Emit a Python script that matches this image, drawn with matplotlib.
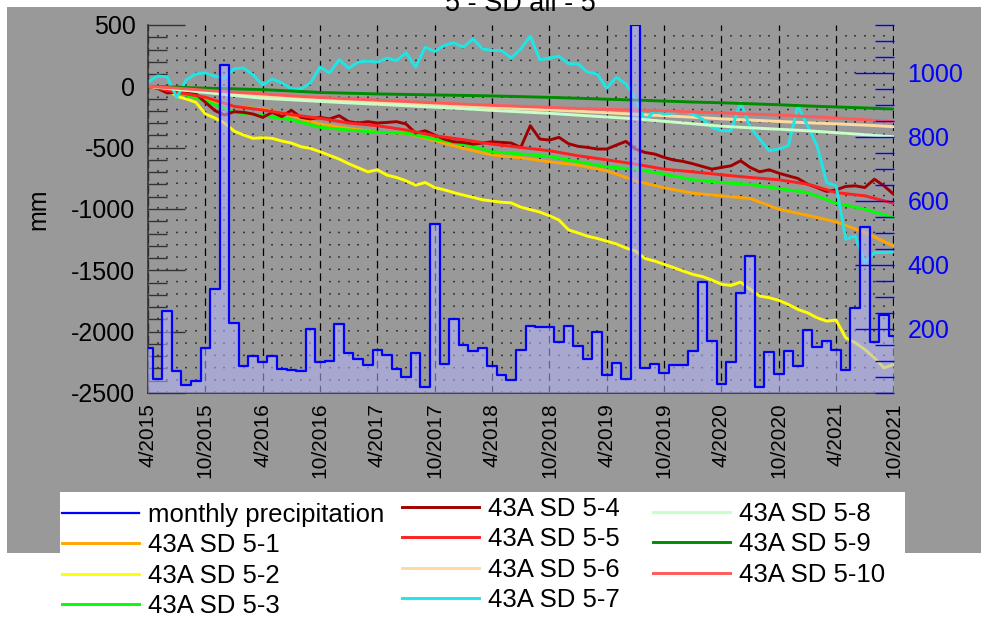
import matplotlib.pyplot as plt
from matplotlib.ticker import MultipleLocator
from matplotlib.patches import Rectangle
import numpy as np

plt.rcParams['font.family'] = ['Liberation Sans', 'DejaVu Sans']
plt.rcParams['lines.scale_dashes'] = False
plt.rcParams['axes.unicode_minus'] = False

# x axis is months since 4/2015
tick_months = list(range(0, 79, 6))
tick_labels = ['4/2015', '10/2015', '4/2016', '10/2016', '4/2017', '10/2017', '4/2018',
               '10/2018', '4/2019', '10/2019', '4/2020', '10/2020', '4/2021', '10/2021']
months = np.arange(79)          # monthly samples
months_q = np.arange(0, 79, 3)  # quarterly samples for the smooth curves

# monthly precipitation (mm, right axis)
precip = [140, 44, 256, 68, 25, 37, 140, 324, 1024, 218,
          85, 116, 97, 116, 76, 71, 68, 200, 97, 99,
          215, 126, 105, 87, 133, 118, 76, 51, 125, 20,
          527, 92, 231, 149, 130, 140, 85, 56, 40, 133,
          210, 205, 205, 159, 208, 146, 105, 192, 56, 94,
          44, 1150, 79, 92, 64, 89, 87, 130, 346, 162,
          27, 97, 311, 427, 20, 128, 58, 130, 85, 198,
          143, 164, 133, 73, 267, 519, 159, 243, 179]

# settlement curves (mm, left axis)
sd_5_1 = [0, -43, -103, -163, -185, -239, -307, -343, -375, -381, -443, -506, -560, -582,
          -615, -642, -688, -770, -827, -871, -893, -914, -1002, -1051, -1105, -1192, -1301]
sd_5_2 = [0, -8, -20, -81, -103, -130, -225, -258, -299, -364, -397, -424, -419, -424, -446,
          -462, -492, -506, -533, -563, -593, -631, -664, -697, -680, -724, -743, -770, -806,
          -784, -825, -844, -866, -887, -905, -925, -935, -945, -950, -985, -1005, -1025, -1055,
          -1090, -1170, -1195, -1222, -1240, -1262, -1285, -1318, -1342, -1404, -1424, -1451,
          -1478, -1506, -1533, -1551, -1579, -1614, -1623, -1596, -1655, -1710, -1723, -1745,
          -1778, -1819, -1846, -1887, -1914, -1906, -2050, -2091, -2145, -2213, -2295, -2268]
sd_5_3 = [0, -48, -117, -212, -239, -272, -334, -356, -375, -381, -430, -471, -533, -552,
          -571, -615, -656, -675, -716, -762, -784, -800, -833, -866, -953, -1002, -1070]
sd_5_4 = [0, -16, -54, -48, -54, -62, -130, -198, -234, -207, -212, -226, -253, -212, -247,
          -195, -253, -266, -253, -266, -239, -288, -299, -288, -299, -294, -288, -307, -381,
          -362, -397, -430, -452, -457, -471, -462, -452, -457, -462, -498, -321, -430, -438,
          -416, -468, -489, -498, -511, -511, -479, -449, -511, -539, -552, -579, -601, -612,
          -631, -653, -675, -661, -648, -607, -661, -697, -680, -708, -730, -751, -797, -825,
          -857, -844, -816, -811, -825, -757, -811, -879]
sd_5_5 = [0, -48, -89, -163, -193, -231, -261, -299, -321, -356, -403, -435, -471, -498,
          -525, -566, -599, -634, -675, -697, -721, -743, -762, -797, -866, -893, -953]
sd_5_6 = [0, -20, -40, -58, -76, -92, -104, -116, -127, -138, -150, -161, -174, -183,
          -192, -203, -215, -228, -240, -252, -265, -275, -286, -297, -306, -316, -329]
sd_5_7 = [35, 85, 77, -90, 52, 101, 109, 82, 66, 142, 150, 93, 11, 60, 28, -21, -21, 28,
          158, 109, 218, 148, 197, 207, 197, 230, 210, 273, 156, 319, 284, 333, 355, 319, 387,
          306, 292, 292, 230, 306, 409, 216, 230, 246, 183, 183, 115, 101, -16, 74, 20, -103,
          -280, -198, -226, -217, -198, -226, -266, -334, -362, -362, -130, -333, -430, -525,
          -511, -484, -160, -321, -484, -784, -811, -1247, -1220, -1437, -1355, -1355, -1350]
sd_5_8 = [0, -25, -50, -75, -97, -110, -123, -135, -146, -158, -170, -182, -196, -208,
          -220, -235, -250, -265, -285, -305, -325, -338, -350, -362, -378, -394, -411]
sd_5_9 = [0, -8, -15, -20, -27, -38, -50, -56, -62, -66, -70, -74, -78, -84,
          -90, -97, -105, -112, -120, -128, -134, -142, -150, -160, -168, -176, -185]
sd_5_10 = [0, -15, -32, -48, -62, -78, -91, -102, -113, -124, -135, -145, -155, -163,
           -172, -180, -188, -194, -200, -208, -216, -226, -234, -246, -258, -272, -288]

series = [
    ('43A SD 5-1', months_q, sd_5_1, '#FFA500'),
    ('43A SD 5-2', months, sd_5_2, '#FFFF00'),
    ('43A SD 5-3', months_q, sd_5_3, '#00FF00'),
    ('43A SD 5-4', months, sd_5_4, '#A00000'),
    ('43A SD 5-5', months_q, sd_5_5, '#FF2020'),
    ('43A SD 5-6', months_q, sd_5_6, '#FFDAA0'),
    ('43A SD 5-7', months, sd_5_7, '#1EE6E6'),
    ('43A SD 5-8', months_q, sd_5_8, '#C8FFC8'),
    ('43A SD 5-9', months_q, sd_5_9, '#008C00'),
    ('43A SD 5-10', months_q, sd_5_10, '#FF5A5A'),
]

W, H = 981, 618
bg = '#999999'
fig = plt.figure(figsize=(W / 100, H / 100), dpi=100, facecolor='white')
fig.add_artist(Rectangle((7 / W, 1 - 553 / H), (W - 7) / W, 546 / H, transform=fig.transFigure,
                         facecolor=bg, edgecolor='none', zorder=-10))
fig.add_artist(Rectangle((60 / W, 0), 845 / W, (H - 492) / H, transform=fig.transFigure,
                         facecolor='white', edgecolor='none', zorder=-5))

ax = fig.add_axes([148 / W, 1 - 393 / H, 745.5 / W, 368 / H])
ax.set_facecolor(bg)

lines = []
for label, x, y, c in series:
    ln, = ax.plot(x, y, color=c, lw=2.1, label=label)
    lines.append(ln)

ax.set_xlim(0, 78)
ax.set_ylim(-2500, 500)
ax.set_xticks(tick_months)
ax.set_xticklabels(tick_labels)
ax.xaxis.set_minor_locator(MultipleLocator(1))
ax.yaxis.set_major_locator(MultipleLocator(500))
ax.yaxis.set_minor_locator(MultipleLocator(100))
ax.tick_params(axis='y', which='major', direction='in', length=26.6, width=1.0,
               color='#333333', labelsize=18, pad=9)
ax.tick_params(axis='y', which='minor', direction='in', length=13.7, width=1.0, color='#333333')
ax.tick_params(axis='x', which='both', length=0, labelsize=15, pad=7, labelrotation=90)
ax.grid(True, which='major', axis='x', color='black', linestyle=(0, (5.5, 3.5)), lw=0.9)
ax.grid(True, which='minor', axis='x', color='#1a1a1a', linestyle=(0, (1.1, 7.75)), lw=1.1)
ax.spines['top'].set_visible(False)
ax.spines['right'].set_visible(False)
for s in ('left', 'bottom'):
    ax.spines[s].set_color('#333333')
    ax.spines[s].set_linewidth(1.2)
ax.set_ylabel('mm', fontsize=18)
ax.yaxis.set_label_coords((50 - 148) / 745.5, 0.5)

# precipitation on the right axis, drawn on top of the curves
ax2 = ax.twinx()
ax2.fill_between(months, 0, precip, step='mid', color='#B4B4FF', alpha=0.55, lw=0)
pr, = ax2.step(months, precip, where='mid', color='#0000FF', lw=1.6)
ax2.set_ylim(0, 1150)
ax2.set_yticks([200, 400, 600, 800, 1000])
ax2.yaxis.set_minor_locator(MultipleLocator(50))
ax2.tick_params(axis='y', which='major', direction='in', length=28, width=1.0,
                color='#0000FF', labelcolor='#0000FF', labelsize=18, pad=10)
ax2.tick_params(axis='y', which='minor', direction='in', length=13.7, width=1.0, color='#0000FF')
for s in ax2.spines.values():
    s.set_visible(False)
ax2.set_ylabel('mm', fontsize=18, color='#0000FF')
ax2.yaxis.set_label_coords((976 - 148) / 745.5, 0.5)

fig.text(520.5 / W, 1 - 11 / H, '5 - SD all - 5', ha='center', va='baseline', fontsize=19.5)

# legend in three separate columns, like the original
cols = [
    ([pr] + lines[0:3], ['monthly precipitation'] + [s[0] for s in series[0:3]], 62, 503),
    (lines[3:7], [s[0] for s in series[3:7]], 402, 497),
    (lines[7:10], [s[0] for s in series[7:10]], 653, 502),
]
for hs, ls, x0, y0 in cols:
    fig.legend(hs, ls, loc='upper left', bbox_to_anchor=(x0 / W, 1 - y0 / H), frameon=False,
               fontsize=18.5, handlelength=3.0, handletextpad=0.36, labelspacing=0.245,
               borderpad=0, borderaxespad=0)

fig.savefig('out.png', dpi=100)
